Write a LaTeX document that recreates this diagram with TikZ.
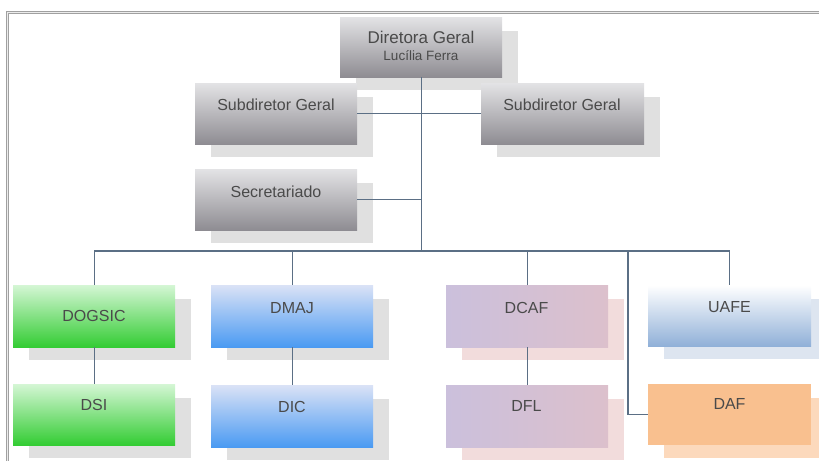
\documentclass[tikz,border=0pt]{standalone}
\usepackage{fontspec}
\setmainfont{Liberation Sans}
\usetikzlibrary{backgrounds}
\definecolor{lnc}{HTML}{5B6F85}
\definecolor{txc}{HTML}{4A4A4A}
\definecolor{shg}{HTML}{E0E0E0}
\definecolor{shp}{HTML}{F2DCDC}
\definecolor{shb}{HTML}{DDE5F0}
\definecolor{sho}{HTML}{FCD9BC}
\definecolor{gtop}{HTML}{E3E3E5}
\definecolor{gbot}{HTML}{8E8C92}
\definecolor{grtop}{HTML}{D4F6D4}
\definecolor{grbot}{HTML}{33CC33}
\definecolor{bltop}{HTML}{DAE2F6}
\definecolor{blbot}{HTML}{4A9AF2}
\definecolor{pleft}{HTML}{CBC0DC}
\definecolor{pright}{HTML}{DCC0CC}
\definecolor{ubot}{HTML}{90B0D8}
\definecolor{orf}{HTML}{F9C08F}
\definecolor{frm}{HTML}{A0A0A0}
\tikzset{
  boxbase/.style={rectangle, inner sep=0pt, minimum width=162pt, minimum height=62pt, anchor=north west},
  graybox/.style={boxbase, top color=gtop, bottom color=gbot},
  greenbox/.style={boxbase, top color=grtop, bottom color=grbot},
  bluebox/.style={boxbase, top color=bltop, bottom color=blbot},
  purplebox/.style={boxbase, left color=pleft, right color=pright},
  uafebox/.style={boxbase, top color=white, bottom color=ubot},
  orangebox/.style={boxbase, fill=orf},
  conn/.style={draw=lnc, line width=1.4pt},
  txt/.style={text=txc, anchor=base, inner sep=0pt, font=\fontsize{16}{16}\selectfont},
  smalltxt/.style={text=txc, anchor=base, inner sep=0pt, font=\fontsize{13.5}{13.5}\selectfont},
}
\begin{document}
\begin{tikzpicture}[x=1pt,y=-1pt]
\useasboundingbox (0,0) rectangle (819,461);
% frame
\draw[frm, line width=1.1pt, double=white!80!frm, double distance=1.3pt] (7.5,461) -- (7.5,12.5) -- (822,12.5);
% boxes
\node[graybox, minimum height=60pt] (dg) at (340,17) {};
\node[graybox, minimum height=61pt] (s1) at (195,83) {};
\node[graybox, minimum width=163pt, minimum height=61pt] (s2) at (481,83) {};
\node[graybox, minimum height=61pt] (sec) at (195,169) {};
\node[greenbox] (dogsic) at (13,285) {};
\node[bluebox] (dmaj) at (211,285) {};
\node[purplebox] (dcaf) at (446,285) {};
\node[uafebox, minimum width=163pt, minimum height=61pt] (uafe) at (648,285) {};
\node[greenbox, minimum height=61pt] (dsi) at (13,384) {};
\node[bluebox] (dic) at (211,385) {};
\node[purplebox] (dfl) at (446,385) {};
\node[orangebox, minimum width=163pt, minimum height=61pt] (daf) at (648,384) {};
% shadows
\begin{pgfonlayer}{background}
\foreach \n in {dg,s1,s2,sec,dogsic,dmaj,dsi,dic}
  \fill[shg] ([shift={(16,14)}]\n.north west) rectangle ([shift={(16,13)}]\n.south east);
\foreach \n in {dcaf,dfl}
  \fill[shp] ([shift={(16,14)}]\n.north west) rectangle ([shift={(16,13)}]\n.south east);
\fill[shb] ([shift={(16,14)}]uafe.north west) rectangle ([shift={(16,13)}]uafe.south east);
\fill[sho] ([shift={(16,14)}]daf.north west) rectangle ([shift={(16,13)}]daf.south east);
\end{pgfonlayer}
% connectors
\coordinate (bus) at (0,251);
\coordinate (dafx) at (628,251);
\draw[conn] (dg.south) -- (dg.south |- bus);
\draw[conn] (s1.east) -- (s2.west);
\draw[conn] (sec.east) -- (sec.east -| dg.south);
\draw[conn] (dogsic.north) -- (dogsic.north |- bus) -- (uafe.north |- bus) -- (uafe.north);
\draw[conn] (dmaj.north) -- (dmaj.north |- bus);
\draw[conn] (dcaf.north) -- (dcaf.north |- bus);
\draw[conn] (dogsic.south) -- (dsi.north);
\draw[conn] (dmaj.south) -- (dic.north);
\draw[conn] (dcaf.south) -- (dfl.north);
\draw[conn] (dafx) |- (daf.west);
% texts
\node[txt, font=\fontsize{17}{17}\selectfont] (tdg) at (421,43.5) {Diretora Geral};
\node[smalltxt] (tdg2) at (421,60) {Lucília Ferra};
\node[txt] (ts1) at (276,110.5) {Subdiretor Geral};
\node[txt] (ts2) at (562,110.5) {Subdiretor Geral};
\node[txt] (tsec) at (276,197) {Secretariado};
\node[txt] (tdogsic) at (94,321.5) {DOGSIC};
\node[txt] (tdmaj) at (292,313.5) {DMAJ};
\node[txt] (tdcaf) at (526.5,313.5) {DCAF};
\node[txt] (tuafe) at (729.5,312.5) {UAFE};
\node[txt] (tdsi) at (94,410.5) {DSI};
\node[txt] (tdic) at (292,412.5) {DIC};
\node[txt] (tdfl) at (526.5,411.5) {DFL};
\node[txt] (tdaf) at (729.5,409.5) {DAF};
\end{tikzpicture}
\end{document}
